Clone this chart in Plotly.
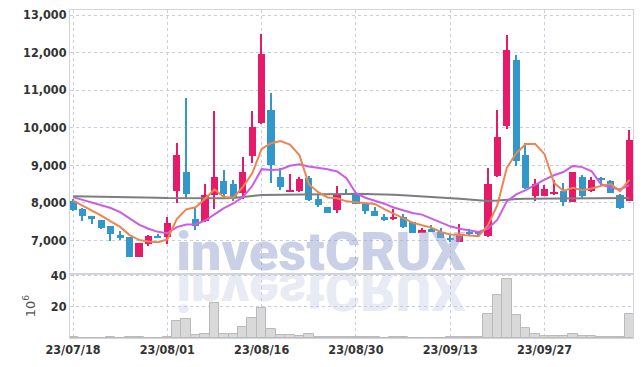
import plotly.graph_objects as go
from plotly.subplots import make_subplots

# ---------------- data ----------------
dates = ["23/07/18", "23/07/19", "23/07/20", "23/07/21", "23/07/24", "23/07/25", "23/07/26", "23/07/27",
         "23/07/28", "23/07/31", "23/08/01", "23/08/02", "23/08/03", "23/08/04", "23/08/07", "23/08/08",
         "23/08/09", "23/08/10", "23/08/11", "23/08/14", "23/08/16", "23/08/17", "23/08/18", "23/08/21",
         "23/08/22", "23/08/23", "23/08/24", "23/08/25", "23/08/28", "23/08/29", "23/08/30", "23/08/31",
         "23/09/01", "23/09/04", "23/09/05", "23/09/06", "23/09/07", "23/09/08", "23/09/11", "23/09/12",
         "23/09/13", "23/09/14", "23/09/15", "23/09/18", "23/09/19", "23/09/20", "23/09/21", "23/09/22",
         "23/09/25", "23/09/26", "23/09/27", "23/10/04", "23/10/05", "23/10/06", "23/10/10", "23/10/11",
         "23/10/12", "23/10/13", "23/10/16", "23/10/17"]

opens = [8050, 7840, 7650, 7530, 7370, 7150, 7100, 6570, 6910, 7120,
         7100, 8310, 8810, 7560, 7510, 8220, 8570, 8510, 8270, 9240,
         10120, 10460, 8700, 8300, 8310, 8660, 8110, 7900, 7800, 8270,
         8240, 7990, 7790, 7610, 7580, 7630, 7490, 7200, 7310, 7230,
         7060, 6960, 7230, 7210, 7120, 8710, 10040, 11790, 9260, 8170,
         8190, 8250, 8310, 8020, 8700, 8310, 8660, 8590, 8220, 8060]
highs = [8100, 7850, 7650, 7530, 7370, 7260, 7100, 6930, 7130, 7180,
         7610, 9590, 10780, 7870, 8510, 10450, 8860, 8600, 9230, 10450,
         12490, 10910, 8930, 8770, 8700, 8710, 8220, 7900, 8460, 8370,
         8260, 8000, 7880, 7690, 7830, 7710, 7500, 7320, 7400, 7330,
         7150, 7440, 7310, 7240, 8930, 10480, 12470, 11930, 9590, 8630,
         8470, 8610, 8540, 8820, 8730, 8700, 8700, 8610, 8230, 9930]
lows = [7780, 7510, 7440, 7290, 6980, 7010, 6560, 6560, 6850, 7050,
        6910, 7990, 8110, 7280, 7500, 7830, 8110, 8060, 8090, 9060,
        10100, 8520, 8350, 8290, 8280, 8050, 7880, 7720, 7740, 8210,
        7960, 7710, 7640, 7510, 7550, 7340, 7190, 7190, 7220, 7050,
        6950, 6950, 7150, 7100, 7100, 8700, 9960, 8970, 8380, 8060,
        8170, 8220, 7920, 8010, 8110, 8300, 8440, 8250, 7830, 8050]
closes = [7800, 7660, 7560, 7340, 7160, 7070, 6570, 6920, 7120, 7060,
          7460, 9260, 8230, 7390, 8200, 8700, 8240, 8150, 8810, 10020,
          11960, 9000, 8420, 8340, 8640, 8080, 7930, 7720, 8240, 8220,
          7970, 7780, 7640, 7540, 7630, 7350, 7200, 7280, 7230, 7060,
          7020, 7150, 7160, 7170, 8490, 9750, 12080, 9110, 8390, 8510,
          8380, 8280, 8020, 8810, 8170, 8620, 8630, 8260, 7870, 9660]

ma_short = [8060, 7930, 7800, 7660, 7504, 7358, 7140, 7012, 6968, 6948,
            7026, 7564, 7826, 7880, 8108, 8356, 8152, 8136, 8420, 8784,
            9436, 9588, 9642, 9548, 9272, 8496, 8282, 8142, 8122, 8038,
            8016, 7986, 7970, 7830, 7712, 7588, 7472, 7400, 7338, 7224,
            7158, 7148, 7124, 7112, 7398, 7944, 8930, 9320, 9564, 9568,
            9294, 8534, 8316, 8400, 8332, 8380, 8450, 8498, 8310, 8608]
ma_mid = [8150, 8080, 8000, 7930, 7860, 7750, 7580, 7420, 7310, 7226,
          7192, 7352, 7419, 7424, 7528, 7691, 7858, 7981, 8150, 8446,
          8896, 8870, 8889, 8984, 9028, 8966, 8935, 8892, 8835, 8655,
          8256, 8134, 8056, 7976, 7875, 7802, 7729, 7685, 7584, 7468,
          7373, 7310, 7262, 7225, 7311, 7551, 8039, 8222, 8338, 8483,
          8619, 8732, 8818, 8982, 8950, 8837, 8492, 8407, 8355, 8470]
ma_long = [8175, 8172, 8168, 8164, 8160, 8155, 8150, 8145, 8140, 8133,
           8125, 8122, 8120, 8118, 8117, 8118, 8120, 8130, 8150, 8180,
           8210, 8215, 8220, 8222, 8225, 8228, 8230, 8232, 8235, 8237,
           8238, 8236, 8230, 8222, 8212, 8200, 8188, 8175, 8160, 8145,
           8130, 8110, 8090, 8070, 8050, 8060, 8085, 8100, 8105, 8107,
           8107, 8108, 8108, 8110, 8112, 8115, 8118, 8122, 8126, 8130]

volume = [0.3, 0.2, 0.2, 0.2, 0.3, 0.2, 0.4, 0.3, 0.2, 0.2,
          0.5, 11.0, 12.1, 2.1, 2.7, 22.3, 2.5, 2.7, 7.0, 12.7,
          19.1, 5.7, 1.9, 1.9, 1.3, 2.5, 0.8, 0.8, 0.8, 0.6,
          0.4, 0.3, 0.3, 0.2, 0.3, 0.3, 0.2, 0.2, 0.2, 0.2,
          0.3, 0.8, 0.3, 0.3, 15.5, 27.6, 37.8, 14.6, 6.6, 2.7,
          1.5, 1.5, 1.5, 2.5, 1.5, 1.5, 0.8, 0.8, 0.8, 15.3]

price_ticks = [7000, 8000, 9000, 10000, 11000, 12000, 13000]
price_tick_text = ["7,000", "8,000", "9,000", "10,000", "11,000", "12,000", "13,000"]
vol_ticks = [20, 40]
vol_tick_text = ["20", "40"]
date_tick_every = 10
watermark = "investCRUX"

# ---------------- styling ----------------
RED = "#e61a68"
BLUE = "#3298ca"
GRID = "#c9cce0"
FRAME = "#d2d3dc"
TICKFONT = dict(family="DejaVu Sans Condensed", size=12.5, color="#333333", weight=700)

xi = list(range(len(dates)))
colors = [RED if c >= o else BLUE for o, c in zip(opens, closes)]
body_base = [min(o, c) for o, c in zip(opens, closes)]
body_h = [abs(c - o) for o, c in zip(opens, closes)]
wick_h = [h - l for h, l in zip(highs, lows)]
tick_idx = xi[::date_tick_every]
tick_lbl = dates[::date_tick_every]

fig = make_subplots(rows=2, cols=1)

wm_x, wm_y = 26.3, 6560
fig.add_trace(go.Scatter(x=[wm_x], y=[wm_y], mode="text", text=[watermark],
                         textposition="middle center", cliponaxis=False,
                         textfont=dict(family="Roboto", size=54, weight=900,
                                       color="rgba(150,163,208,0.50)"),
                         hoverinfo="skip", showlegend=False), row=1, col=1)
fig.add_trace(go.Scatter(x=[wm_x], y=[wm_y], mode="text", text=[watermark],
                         textposition="middle center", cliponaxis=False,
                         textfont=dict(family="Roboto", size=54, weight=900,
                                       color="rgba(150,163,208,0.24)"),
                         hoverinfo="skip", showlegend=False), row=1, col=1)

# wicks and bodies
fig.add_trace(go.Bar(x=xi, y=wick_h, base=lows, width=0.16, marker=dict(color=colors, line=dict(width=0)),
                     hoverinfo="skip", showlegend=False), row=1, col=1)
fig.add_trace(go.Bar(x=xi, y=body_h, base=body_base, width=0.76,
                     marker=dict(color=colors, line=dict(width=0)),
                     hoverinfo="skip", showlegend=False), row=1, col=1)

# moving averages
fig.add_trace(go.Scatter(x=xi, y=ma_long, mode="lines", line=dict(color="#7d7d7d", width=2),
                         showlegend=False, hoverinfo="skip"), row=1, col=1)
fig.add_trace(go.Scatter(x=xi, y=ma_mid, mode="lines", line=dict(color="#cc5ce6", width=2),
                         showlegend=False, hoverinfo="skip"), row=1, col=1)
fig.add_trace(go.Scatter(x=xi, y=ma_short, mode="lines", line=dict(color="#ee8450", width=2),
                         showlegend=False, hoverinfo="skip"), row=1, col=1)

# volume
fig.add_trace(go.Bar(x=xi, y=volume, width=1.0,
                     marker=dict(color="#d9d9d9", line=dict(color="#b9b9b9", width=1)),
                     showlegend=False, hoverinfo="skip"), row=2, col=1)

xr = [-0.32, 59.38]
common_x = dict(range=xr, tickmode="array", tickvals=tick_idx, ticktext=tick_lbl,
                showgrid=True, gridcolor=GRID, griddash="dot", gridwidth=1,
                showline=True, linecolor=FRAME, linewidth=1, mirror=True,
                zeroline=False, ticks="", tickfont=TICKFONT, automargin=False)
common_y = dict(showgrid=True, gridcolor=GRID, griddash="dot", gridwidth=1,
                showline=True, linecolor=FRAME, linewidth=1, mirror=True,
                zeroline=False, ticks="", tickfont=TICKFONT, automargin=False,
                tickmode="array")
fig.update_layout(
    width=643, height=367,
    margin=dict(l=70, r=10, t=10, b=29),
    paper_bgcolor="white", plot_bgcolor="white",
    barmode="overlay", bargap=0,
    showlegend=False,
    xaxis=dict(common_x, domain=[0, 1], showticklabels=False),
    xaxis2=dict(common_x, domain=[0, 1], showticklabels=True),
    yaxis=dict(common_y, domain=[0.195, 1], range=[6103, 13133],
               tickvals=price_ticks, ticktext=price_tick_text),
    yaxis2=dict(common_y, domain=[0, 0.195], range=[0, 41.09],
                tickvals=vol_ticks, ticktext=vol_tick_text,
                title=dict(text="10<sup>6</sup>", font=dict(family="DejaVu Sans", size=13, color="#555555"),
                           standoff=12)),
)

post = """
document.body.style.margin = '0';
document.body.style.padding = '0';
document.documentElement.style.overflow = 'hidden';
var gd = document.getElementById('{plot_id}');
var ts = gd.querySelectorAll('g.textpoint text');
if (ts.length > 1) {
  var t = ts[1];
  var bb = t.getBBox();
  var yb = bb.y + bb.height * 0.7917;
  var ex = t.getAttribute('transform') || '';
  t.setAttribute('transform', ex + ' translate(0,' + (2 * yb + 3) + ') scale(1,-1)');
}
"""
fig.write_html("out.html", post_script=post, config={"displayModeBar": False})
